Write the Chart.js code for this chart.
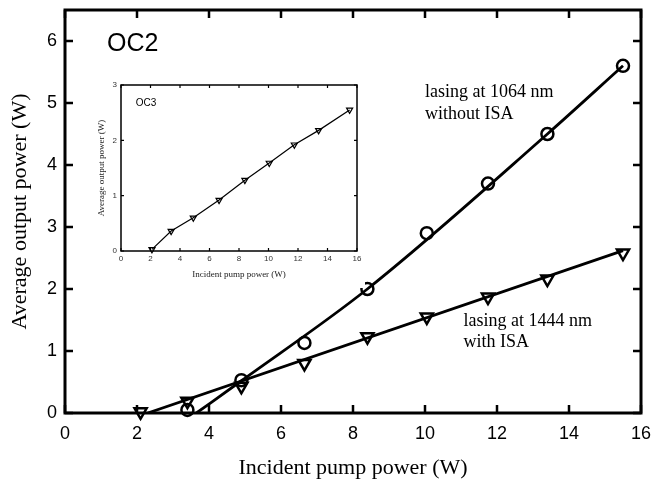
<!DOCTYPE html>
<html>
<head>
<meta charset="utf-8">
<script src="https://cdn.jsdelivr.net/npm/chart.js@4.4.1/dist/chart.umd.min.js"></script>
<style>
  html, body { margin: 0; padding: 0; background: #fff; }
  #wrap { position: relative; width: 652px; height: 485px; }
  #main { position: absolute; left: 0; top: 0; }
  #inset { position: absolute; left: 90px; top: 78px; background: #fff; }
</style>
</head>
<body>
<div id="wrap">
  <canvas id="main" width="652" height="485"></canvas>
  <canvas id="inset" width="275" height="210"></canvas>
</div>
<script>
// OC2, lasing at 1064 nm (circles)
const pump1064 = [3.4, 4.9, 6.65, 8.4, 10.05, 11.75, 13.4, 15.5];
const power1064 = [0.05, 0.53, 1.13, 2.0, 2.9, 3.7, 4.5, 5.6];
// OC2, lasing at 1444 nm (triangles)
const pump1444 = [2.1, 3.4, 4.9, 6.65, 8.4, 10.05, 11.75, 13.4, 15.5];
const power1444 = [0.02, 0.19, 0.43, 0.8, 1.23, 1.55, 1.87, 2.16, 2.58];
// fitted curves
const fit1064X = [3.65, 4.9, 8.4, 13.4, 15.5];
const fit1064Y = [0, 0.52, 2.0, 4.5, 5.6];
const fit1444X = [2.3, 15.5];
const fit1444Y = [0, 2.62];
// inset OC3
const pumpOC3 = [2.1, 3.4, 4.9, 6.65, 8.4, 10.05, 11.75, 13.4, 15.5];
const powerOC3 = [0.03, 0.36, 0.6, 0.92, 1.28, 1.59, 1.92, 2.18, 2.55];

const pts = (xs, ys) => xs.map((x, i) => ({ x: x, y: ys[i] }));

// frame with ticks pointing inwards on all four sides
const inwardFrame = {
  id: 'inwardFrame',
  afterDatasetsDraw(chart, args, o) {
    const { ctx, chartArea: a } = chart;
    const xs = chart.scales.x, ys = chart.scales.y;
    ctx.save();
    ctx.strokeStyle = '#000';
    ctx.lineWidth = o.tickWidth;
    ctx.beginPath();
    xs.ticks.forEach(t => {
      const p = xs.getPixelForValue(t.value);
      ctx.moveTo(p, a.bottom); ctx.lineTo(p, a.bottom - o.len);
      ctx.moveTo(p, a.top); ctx.lineTo(p, a.top + o.len);
    });
    ys.ticks.forEach(t => {
      const p = ys.getPixelForValue(t.value);
      ctx.moveTo(a.left, p); ctx.lineTo(a.left + o.len, p);
      ctx.moveTo(a.right, p); ctx.lineTo(a.right - o.len, p);
    });
    ctx.stroke();
    ctx.lineWidth = o.border;
    ctx.strokeRect(a.left, a.top, a.width, a.height);
    ctx.restore();
  }
};

// text notes placed in data coordinates
const notes = {
  id: 'notes',
  afterDraw(chart, args, o) {
    const { ctx } = chart;
    const xs = chart.scales.x, ys = chart.scales.y;
    ctx.save();
    ctx.fillStyle = '#000';
    ctx.textAlign = 'left';
    ctx.textBaseline = 'alphabetic';
    (o.items || []).forEach(n => {
      ctx.font = n.font;
      ctx.fillText(n.text, xs.getPixelForValue(n.x), ys.getPixelForValue(n.y));
    });
    ctx.restore();
  }
};

const serif = 'Liberation Serif';
const sans = 'Liberation Sans';

// keep the plot area exactly where the layout padding puts it
function fixX(h) { return s => { s.height = h; s.paddingLeft = 0; s.paddingRight = 0; }; }
function fixY(w) { return s => { s.width = w; s.paddingTop = 0; s.paddingBottom = 0; }; }

new Chart(document.getElementById('main'), {
  type: 'scatter',
  data: {
    datasets: [
      {
        data: pts(fit1064X, fit1064Y), showLine: true, borderColor: '#000',
        borderWidth: 2.8, pointRadius: 0, cubicInterpolationMode: 'monotone'
      },
      {
        data: pts(fit1444X, fit1444Y), showLine: true, borderColor: '#000',
        borderWidth: 2.8, pointRadius: 0
      },
      {
        data: pts(pump1064, power1064), showLine: false, clip: false, pointStyle: 'circle',
        pointRadius: 6, pointBorderWidth: 2.5, pointBorderColor: '#000',
        pointBackgroundColor: 'rgba(0,0,0,0)'
      },
      {
        data: pts(pump1444, power1444), showLine: false, clip: false, pointStyle: 'triangle',
        rotation: 180, pointRadius: 7, pointBorderWidth: 2.5, pointBorderColor: '#000',
        pointBackgroundColor: 'rgba(0,0,0,0)'
      }
    ]
  },
  options: {
    responsive: false,
    animation: false,
    events: [],
    layout: { padding: { top: 10, right: 11, left: 0, bottom: 0 } },
    plugins: {
      legend: { display: false },
      tooltip: { enabled: false },
      inwardFrame: { len: 8, tickWidth: 2.5, border: 3 },
      notes: {
        items: [
          { text: 'OC2', x: 1.17, y: 5.84, font: '25px ' + sans },
          { text: 'lasing at 1064 nm', x: 10.0, y: 5.09, font: '18px ' + serif },
          { text: 'without ISA', x: 10.0, y: 4.74, font: '18px ' + serif },
          { text: 'lasing at 1444 nm', x: 11.07, y: 1.41, font: '18px ' + serif },
          { text: 'with ISA', x: 11.07, y: 1.06, font: '18px ' + serif }
        ]
      }
    },
    scales: {
      x: {
        type: 'linear', min: 0, max: 16,
        grid: { display: false, drawTicks: false },
        border: { display: false },
        ticks: { stepSize: 2, padding: 10, color: '#000', font: { family: sans, size: 18 } },
        title: {
          display: true, text: 'Incident pump power (W)', color: '#000',
          font: { family: serif, size: 22 }, padding: { top: 0, bottom: 4 }
        },
        afterFit: fixX(72)
      },
      y: {
        type: 'linear', min: 0, max: 6.5,
        grid: { display: false, drawTicks: false },
        border: { display: false },
        ticks: { stepSize: 1, includeBounds: false, padding: 8, color: '#000', font: { family: sans, size: 18 } },
        title: {
          display: true, text: 'Average output power (W)', color: '#000',
          font: { family: serif, size: 22 }, padding: { top: 7, bottom: 0 }
        },
        afterFit: fixY(65)
      }
    }
  },
  plugins: [inwardFrame, notes]
});

new Chart(document.getElementById('inset'), {
  type: 'scatter',
  data: {
    datasets: [
      {
        data: pts(pumpOC3, powerOC3), showLine: true, clip: false, borderColor: '#000', borderWidth: 1.2,
        pointStyle: 'triangle', rotation: 180, pointRadius: 3.5, pointBorderWidth: 1.2,
        pointBorderColor: '#000', pointBackgroundColor: 'rgba(0,0,0,0)'
      }
    ]
  },
  options: {
    responsive: false,
    animation: false,
    events: [],
    layout: { padding: { top: 7, right: 8, left: 0, bottom: 0 } },
    plugins: {
      legend: { display: false },
      tooltip: { enabled: false },
      inwardFrame: { len: 3, tickWidth: 1.2, border: 1.5 },
      notes: { items: [{ text: 'OC3', x: 1.0, y: 2.62, font: '10px ' + sans }] }
    },
    scales: {
      x: {
        type: 'linear', min: 0, max: 16,
        grid: { display: false, drawTicks: false },
        border: { display: false },
        ticks: { stepSize: 2, padding: 3, color: '#333', font: { family: sans, size: 8 } },
        title: {
          display: true, text: 'Incident pump power (W)', color: '#222',
          font: { family: serif, size: 9 }, padding: { top: 0, bottom: 8 }
        },
        afterFit: fixX(37)
      },
      y: {
        type: 'linear', min: 0, max: 3,
        grid: { display: false, drawTicks: false },
        border: { display: false },
        ticks: { stepSize: 1, padding: 4, color: '#333', font: { family: sans, size: 8 } },
        title: {
          display: true, text: 'Average output power (W)', color: '#222',
          font: { family: serif, size: 9 }, padding: { top: 6, bottom: 0 }
        },
        afterFit: fixY(31)
      }
    }
  },
  plugins: [inwardFrame, notes]
});
</script>
</body>
</html>
